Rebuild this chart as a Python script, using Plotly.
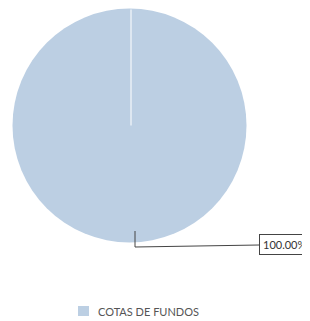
import plotly.graph_objects as go

categories = ["COTAS DE FUNDOS"]
values = [100.0]
colors = ["#bccfe3"]

OFF = 8  # default page body margin
W, H = 310 - OFF, 321 - OFF
total = sum(values)
pct_text = f"{values[0] / total * 100:.2f}%"


def px(x):
    return (x - OFF) / W


def py(y):
    return 1 - (y - OFF) / H


cx, cy, r = 129.5, 125.5, 117
fig = go.Figure()
fig.add_trace(go.Pie(
    labels=categories,
    values=values,
    marker=dict(colors=colors, line=dict(width=0)),
    textinfo="none",
    hoverinfo="label+percent",
    sort=False,
    direction="clockwise",
    domain=dict(x=[px(cx - r), px(cx + r)], y=[py(cy + r), py(cy - r)]),
    showlegend=False,
))

# white radial seam from centre to top
fig.add_shape(type="line", xref="paper", yref="paper",
              x0=px(131), y0=py(cy), x1=px(131), y1=py(cy - r + 1),
              line=dict(color="white", width=1))
# leader line
box_x = 259
fig.add_shape(type="line", xref="paper", yref="paper",
              x0=px(135), y0=py(231), x1=px(135), y1=py(247),
              line=dict(color="#444", width=1))
fig.add_shape(type="line", xref="paper", yref="paper",
              x0=px(135), y0=py(247), x1=px(box_x), y1=py(245),
              line=dict(color="#444", width=1))

fig.add_annotation(
    xref="paper", yref="paper", x=px(box_x), y=py(244),
    xanchor="left", yanchor="middle", text=pct_text, showarrow=False,
    font=dict(family="Lato, Open Sans, Arial", size=11, color="#333"),
    bordercolor="#444", borderwidth=1, borderpad=3, bgcolor="white",
)

# legend (manual)
fig.add_shape(type="rect", xref="paper", yref="paper",
              x0=px(78), y0=py(306), x1=px(89), y1=py(316),
              fillcolor=colors[0], line=dict(width=0))
fig.add_annotation(
    xref="paper", yref="paper", x=px(96), y=py(311),
    xanchor="left", yanchor="middle", text=categories[0], showarrow=False,
    font=dict(family="Lato, Open Sans, Arial", size=11, color="#555"),
)

fig.update_layout(
    width=W, height=H,
    margin=dict(l=0, r=0, t=0, b=0),
    paper_bgcolor="white", plot_bgcolor="white",
)

fig.write_html("out.html")
